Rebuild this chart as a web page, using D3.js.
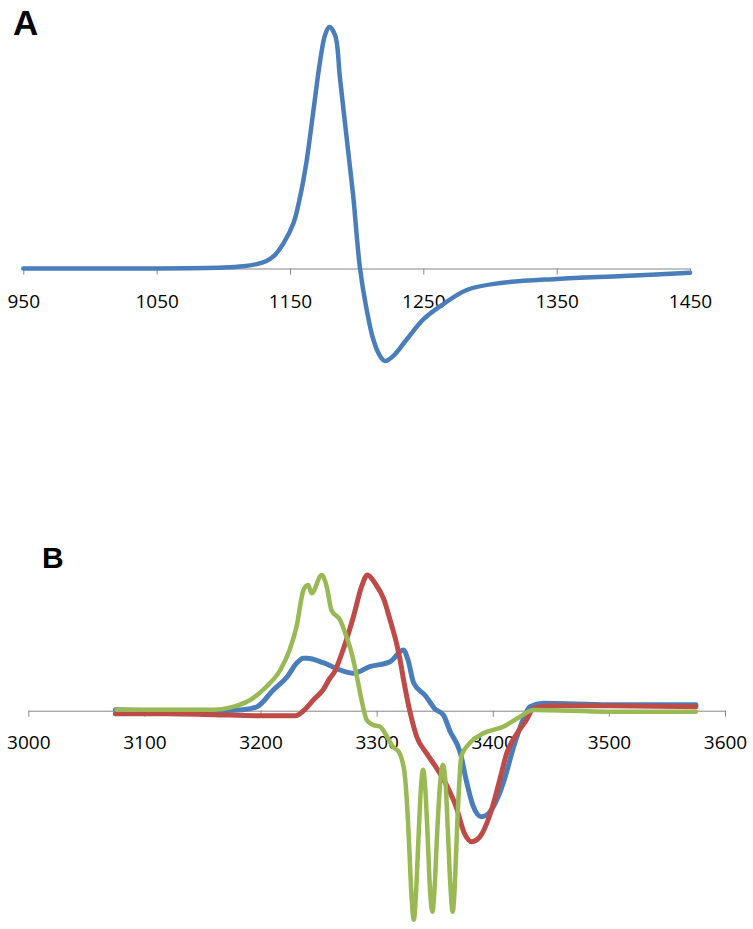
<html>
<script src="https://d3js.org/d3.v7.min.js"></script>
<body style="margin:0;background:#fff">
<svg id="chart" width="753" height="929"></svg>
<script>
// Panel A: field (G) and signal (arbitrary units)
const aField = [950, 1000, 1050, 1100, 1115, 1125, 1132, 1138, 1145, 1152.5, 1157.5, 1162.5, 1167.5, 1172.5, 1176.3, 1179.5,
  1183.8, 1187.5, 1192.5, 1197.5, 1202.5, 1207.5, 1212.5, 1217.5, 1221.3, 1227.5, 1237.5, 1250, 1262.5, 1283, 1308, 1350, 1400, 1450];
const aSignal = [0, 0, 0, 0.4, 0.9, 1.8, 3.0, 5.2, 10.3, 18.6, 29.5, 44.6, 65.1, 85.6, 96.7, 100,
  96.7, 78.8, 54.1, 29.5, 0.1, -17.0, -29.4, -36.2, -38.3, -36.2, -29.4, -21.1, -15.7, -8.8, -6.0, -4.3, -3.1, -1.8];
const aTicks = [950, 1050, 1150, 1250, 1350, 1450];

// Panel B: three spectra
const bBlueField = [3075, 3120, 3160, 3185, 3197, 3211, 3223, 3231, 3237, 3240, 3254, 3268.5, 3280, 3294, 3311.5, 3323, 3327,
  3332, 3342, 3350, 3357.5, 3363, 3372, 3377.6, 3383, 3390, 3395, 3400.5, 3409, 3418, 3426, 3432, 3443.5, 3500, 3575];
const bBlue = [1, 0, 0, 1, 4, 20.7, 34, 47.4, 52.4, 52.4, 48, 40.7, 37.4, 44, 49, 60.7, 50.7,
  27.4, 15, 2, -4.3, -20, -42, -72, -95, -106, -104, -96, -72.6, -36, -9.3, 4, 7.4, 6, 6];

const bRedField = [3075, 3120, 3160, 3200, 3230, 3237, 3245.5, 3254, 3260, 3263, 3271, 3280, 3287, 3292, 3298.6, 3306, 3311.5,
  3317, 3320, 3323, 3329, 3334.5, 3343, 3352, 3360, 3369, 3375, 3382, 3389, 3398, 3406, 3412, 3421, 3429, 3435, 3450, 3500, 3575];
const bRed = [-3, -3, -4, -5, -5, 0, 10.7, 21, 33, 37.4, 60.7, 94, 124, 135.7, 127.4, 112, 91,
  68, 52, 32, -2.6, -26, -42.6, -58, -74, -98, -121, -131, -126, -102.6, -69.3, -42.6, -22.6, -9.3, 2.4, 5, 5, 4];

const bGreenField = [3076, 3120, 3160, 3177, 3191, 3205, 3217, 3225, 3231, 3237, 3241, 3244, 3252.7, 3257, 3261, 3268.5, 3274,
  3278.5, 3283, 3287, 3291.5, 3297, 3303, 3309, 3314, 3319, 3322, 3324, 3326, 3328, 3330, 3332, 3334, 3336, 3338, 3340,
  3342, 3344, 3346, 3348, 3350, 3352, 3354.5, 3357, 3359.5, 3361.5, 3363.5, 3365.5, 3367.5, 3369.5, 3371, 3373, 3380,
  3392, 3409, 3423.5, 3435, 3500, 3575];
const bGreen = [1, 1, 1, 4, 10.7, 24, 40.7, 60.7, 84, 120.7, 125.7, 117.4, 135.7, 124, 100.7, 90.7, 74,
  57.4, 34, 10.7, -9.3, -14.3, -16, -26, -36, -41, -50, -62, -90, -135, -185, -209, -180, -128, -80, -59,
  -80, -128, -180, -201, -175, -125, -75, -54, -75, -125, -175, -201, -170, -110, -75, -45, -32.6,
  -22.6, -16, -6, 0.7, -1, -1];
const bTicks = [3000, 3100, 3200, 3300, 3400, 3500, 3600];

const svg = d3.select("#chart");
const font = "'Open Sans', sans-serif";

function drawAxis(x, y0, ticks, pad) {
  const g = svg.append("g")
    .attr("transform", "translate(0," + y0 + ")")
    .call(d3.axisBottom(x).tickValues(ticks).tickSize(6).tickSizeOuter(0).tickPadding(pad).tickFormat(d3.format("d")));
  g.select(".domain").attr("stroke", "#868686");
  g.selectAll(".tick line").attr("stroke", "#868686");
  g.selectAll(".tick text").attr("fill", "#000").style("font-family", font).style("font-size", "19px");
}

function drawLine(x, y, xs, ys, color, width, curve) {
  const pts = xs.map((v, i) => [v, ys[i]]);
  svg.append("path")
    .datum(pts)
    .attr("fill", "none")
    .attr("stroke", color)
    .attr("stroke-width", width)
    .attr("stroke-linejoin", "round")
    .attr("stroke-linecap", "round")
    .attr("d", d3.line().curve(curve).x(d => x(d[0])).y(d => y(d[1])));
}

// Panel A
const xA = d3.scaleLinear().domain([950, 1450]).range([23.3, 690]);
const yA = d3.scaleLinear().domain([0, 100]).range([268.5, 27]);
drawAxis(xA, 268.5, aTicks, 20);
drawLine(xA, yA, aField, aSignal, "#4a7ebb", 4.5, d3.curveCatmullRom.alpha(0.5));

// Panel B
const xB = d3.scaleLinear().domain([3000, 3600]).range([28.3, 725]);
const yB = d3.scaleLinear().domain([0, 100]).range([710.7, 610.7]);
drawAxis(xB, 710.7, bTicks, 19);
drawLine(xB, yB, bBlueField, bBlue, "#4a7ebb", 5, d3.curveMonotoneX);
drawLine(xB, yB, bRedField, bRed, "#be4b48", 5, d3.curveMonotoneX);
drawLine(xB, yB, bGreenField, bGreen, "#98b954", 4.5, d3.curveMonotoneX);

// Panel letters
svg.append("text").attr("x", 13).attr("y", 35).text("A")
  .style("font-family", "'Liberation Sans', Arial, sans-serif").style("font-weight", "bold").style("font-size", "35px");
svg.append("text").attr("x", 42).attr("y", 568).text("B")
  .style("font-family", "'Liberation Sans', Arial, sans-serif").style("font-weight", "bold").style("font-size", "30px");
</script>
</body>
</html>
